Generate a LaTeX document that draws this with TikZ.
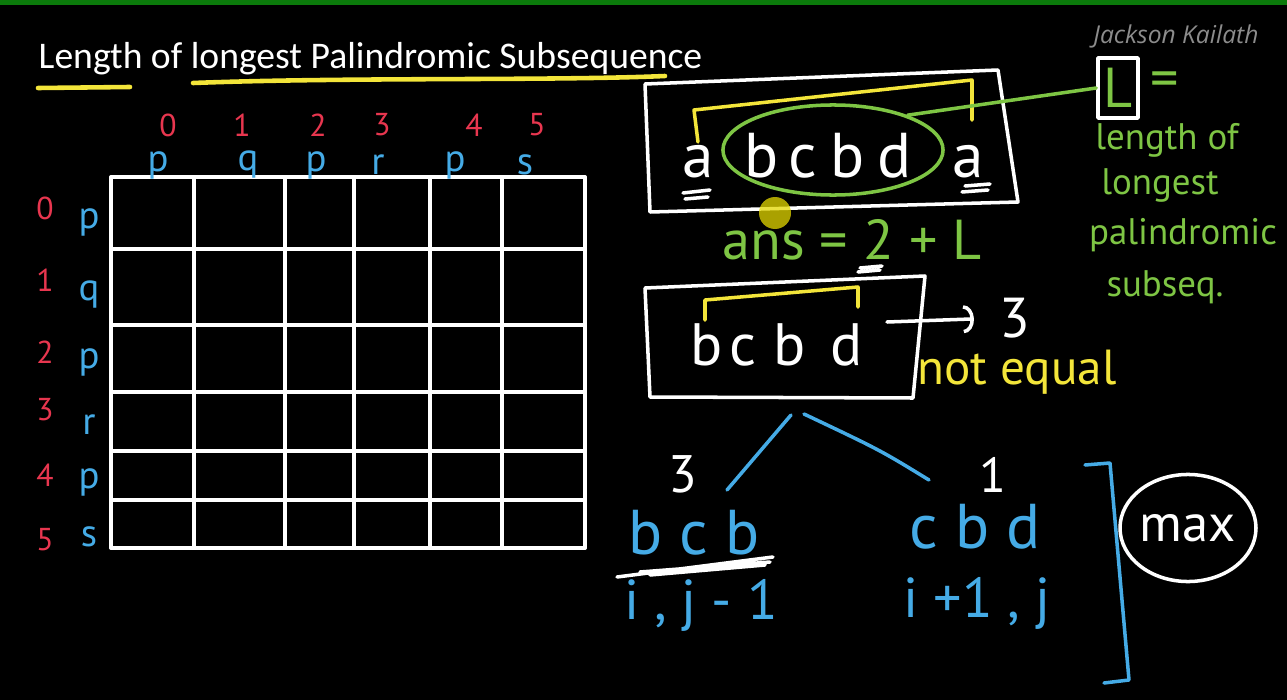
\documentclass[tikz,border=0pt]{standalone}
\usepackage{fontspec}
\setmainfont{Carlito}
\newfontfamily\handfont{PT Sans}
\newfontfamily\markfont{Open Sans}
\usepackage{xcolor}
\usepackage{tikz}
\usetikzlibrary{shapes.geometric,arrows.meta}
\definecolor{boardgreen}{HTML}{0B7A0B}
\definecolor{chalkred}{HTML}{E8364F}
\definecolor{chalkblue}{HTML}{45ABE6}
\definecolor{chalkyellow}{HTML}{F3E53A}
\definecolor{chalkgreen}{HTML}{7EC544}
\definecolor{markgray}{HTML}{8C8C8C}

\begin{document}
\begin{tikzpicture}[x=0.01cm,y=-0.01cm,line cap=round,line join=round,>={Arc Barb[length=3pt,width=8pt]},
  chalk/.style={white,line width=1pt},
  hand/.style={font=\handfont\fontsize{#1}{#1}\selectfont,inner sep=0pt},
  idx/.style={hand=9,text=chalkred},
  lbl/.style={hand=11,text=chalkblue}]
  \useasboundingbox (0,0) rectangle (1287,700);
  \fill[black] (0,0) rectangle (1287,700);
  \fill[boardgreen] (0,0) rectangle (1287,5);

  \node[anchor=base west,inner sep=0pt,text=white,font=\fontsize{10.7}{12}\selectfont] (title) at (38,68)
    {Length of longest Palindromic Subsequence};
  \draw[chalkyellow,line width=1.3pt] (38,88) -- (130,87);
  \draw[chalkyellow,line width=1.3pt] (193,83) .. controls (350,77) and (550,81) .. (665,76);
  \node[text=markgray,inner sep=0pt,font=\markfont\itshape\fontsize{7}{8}\selectfont] (mark) at (1176,36) {Jackson Kailath};

  % dp table
  \foreach \x in {111,194,285,354,430,502,585}
    \draw[chalk] (\x,177) -- (\x,548);
  \foreach \y in {177,249,325,392,451,500,548}
    \draw[chalk] (111,\y) -- (585,\y);
  \foreach \i/\x/\xl/\c in {0/168/158/p,1/242/248/q,2/318/316/p,3/382/378/r,4/474/455/p,5/537/525/s}{
    \node[idx] (ci\i) at (\x,125) {\i};
    \node[lbl] (cl\i) at (\xl,165) {\c};
  }
  \foreach \i/\y/\yl/\c in {0/208/222/p,1/280/295/q,2/352/362/p,3/410/425/r,4/475/482/p,5/540/537/s}{
    \node[idx] (ri\i) at (45,\y) {\i};
    \node[lbl] (rl\i) at (89,\yl) {\c};
  }

  % a bcbd a
  \draw[chalk] (645,84) -- (998,70) -- (1018,202) -- (650,212) -- cycle;
  \foreach \n/\x/\c in {1/698/a,2/762/b,3/803/c,4/848/b,5/895/d,6/968/a}
    \node[hand=18,text=white,anchor=base] (s\n) at (\x,177) {\c};
  \node[draw=chalkgreen,line width=1pt,ellipse,minimum width=2.2cm,minimum height=0.9cm] (ell) at (833,150) {};
  \draw[chalkyellow,line width=1pt] (698,142) -- (694,110) -- (972,80) -- (972,120);
  \draw[chalk] (683,193) -- (710,190) (685,199) -- (708,197);
  \draw[chalk] (965,186) -- (990,184) (962,192) -- (988,190);
  \fill[yellow!75!olive,opacity=0.75] (775,213) circle (16);
  \node[hand=16,text=chalkgreen] (ans) at (852,240) {ans = 2 + L};
  \draw[chalk] (860,268) -- (882,266) (858,272) -- (880,270);

  \node[draw=white,line width=1pt,minimum width=0.4cm,minimum height=0.6cm,hand=16,text=chalkgreen] (Lbox) at (1118,88) {L};
  \node[hand=16,text=chalkgreen] (Leq) at (1165,85) {=};
  \draw[chalkgreen,line width=1pt] (ell.25) -- (Lbox.west);
  \node[hand=10.5,text=chalkgreen] (def1) at (1167,140) {length of};
  \node[hand=10.5,text=chalkgreen] (def2) at (1160,185) {longest};
  \node[hand=10.5,text=chalkgreen] (def3) at (1183,235) {palindromic};
  \node[hand=10.5,text=chalkgreen] (def4) at (1165,287) {subseq.};

  % bcbd
  \draw[chalk] (645,288) -- (925,276) -- (913,398) -- (650,397) -- cycle;
  \foreach \n/\x/\c in {1/707/b,2/743/c,3/790/b,4/847/d}
    \node[hand=17,text=white,anchor=base] (t\n) at (\x,365) {\c};
  \draw[chalkyellow,line width=1pt] (705,320) -- (705,300) -- (858,287) -- (858,307);
  \node[hand=16,text=white] (three) at (1015,318) {3};
  \coordinate (arr) at (887,322);
  \draw[chalk,->,shorten >=0.25cm] (arr) -- (three.west);
  \node[hand=14,text=chalkyellow] (neq) at (1017,372) {not equal};

  % split
  \coordinate (rootL) at (791,415);
  \coordinate (rootR) at (804,414);
  \coordinate (footL) at (727,490);
  \coordinate (footR) at (929,480);
  \draw[chalkblue,line width=1pt] (rootL) -- (footL);
  \draw[chalkblue,line width=1pt] (rootR) .. controls (880,450) .. (footR);
  \node[hand=15,text=white] (lval) at (683,474) {3};
  \node[hand=18,text=chalkblue] (left) at (694,533) {b c b};
  \draw[chalk] (617,577) -- (773,557) (640,572) -- (770,562) (650,575) -- (765,565);
  \node[hand=16,text=chalkblue] (lidx) at (701,605) {i , j - 1};
  \node[hand=14,text=white] (rval) at (993,475) {1};
  \node[hand=18,text=chalkblue] (right) at (975,527) {c b d};
  \node[hand=16,text=chalkblue] (ridx) at (977,603) {i +1 , j};
  \draw[chalkblue,line width=1pt] (1085,465) -- (1110,463) -- (1129,680) -- (1104,683);
  \node[draw=white,line width=1pt,ellipse,minimum width=1.31cm,minimum height=1.07cm,hand=15,text=white] (mx) at (1188,528) {max};
\end{tikzpicture}
\end{document}
